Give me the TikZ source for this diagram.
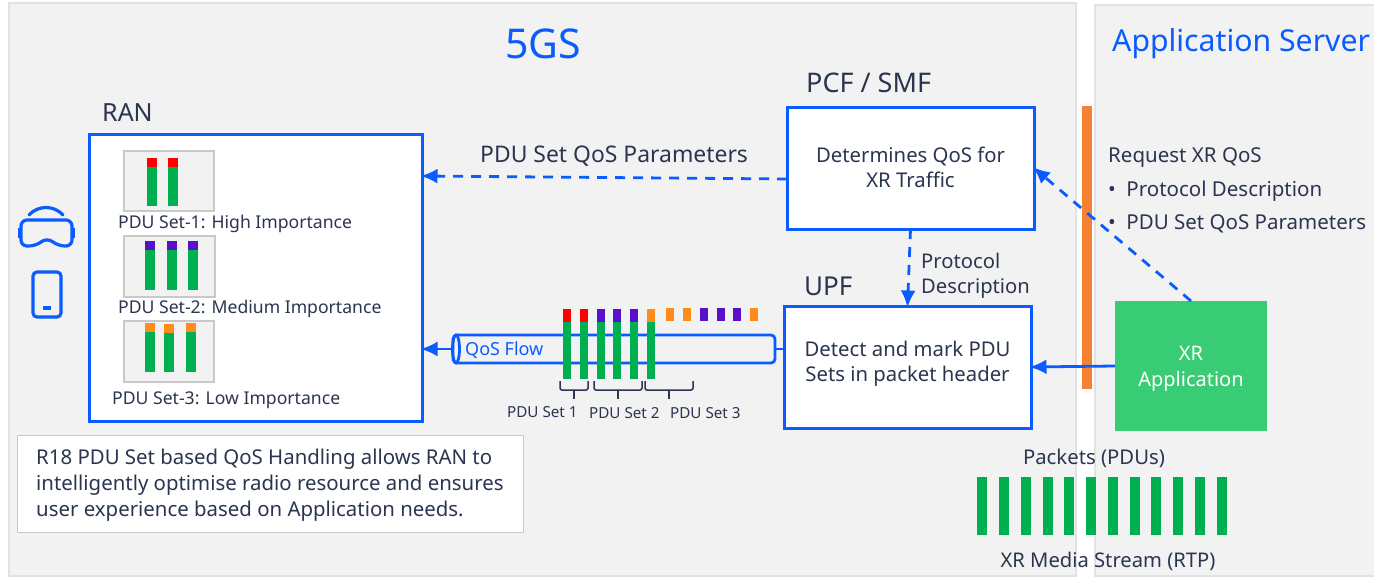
\documentclass[tikz,border=0pt]{standalone}
\usepackage{fontspec}
\setmainfont{Noto Sans}
\usetikzlibrary{arrows.meta}
\definecolor{nblue}{HTML}{0A5CFF}
\definecolor{ndark}{HTML}{2B3550}
\definecolor{npanel}{HTML}{F2F2F2}
\definecolor{nedge}{HTML}{E2E2E2}
\definecolor{nthumb}{HTML}{C9C9C9}
\definecolor{ngreen}{HTML}{00B050}
\definecolor{nred}{HTML}{FF0000}
\definecolor{npurple}{HTML}{5A10C8}
\definecolor{norange}{HTML}{FF8C1A}
\definecolor{nbar}{HTML}{F58233}
\definecolor{napp}{HTML}{38CC74}
\tikzset{
  panel/.style={fill=npanel,draw=nedge,line width=2pt},
  thumb/.style={fill=npanel,draw=nthumb,line width=2.8pt},
  bluebox/.style={draw=nblue,fill=white,line width=3pt,inner sep=0pt,outer sep=0pt},
  txt/.style={text=ndark,inner sep=0pt,font=\fontsize{20.3}{25}\selectfont},
  small/.style={text=ndark,inner sep=0pt,font=\fontsize{17.6}{21}\selectfont},
  tiny/.style={text=ndark,inner sep=0pt,font=\fontsize{15.2}{18}\selectfont},
  big/.style={text=nblue,inner sep=0pt},
  flowline/.style={draw=nblue,line width=2.8pt,shorten >=-1.5pt,-{Latex[length=17pt,width=15pt]}},
  flowdash/.style={flowline,dash pattern=on 10pt off 8pt},
  brace/.style={draw=ndark,line width=1.5pt,rounded corners=2pt},
  icon/.style={draw=nblue,line width=3.2pt}
}
\begin{document}
\begin{tikzpicture}[x=1pt,y=-1pt]
\useasboundingbox (0,0) rectangle (1374,578);

% Pannelli
\draw[panel] (9,3) rectangle (1076,576);
\draw[panel] (1095,5) rectangle (1380,576);
\node[big,font=\fontsize{41}{48}\selectfont] (title5gs) at (543,44) {5GS};
\node[big,font=\fontsize{30.2}{36}\selectfont,anchor=west] (titleas) at (1112,44) {Application Server};

% Visore e telefono
\draw[icon,rounded corners=6pt] (21,220) -- (72,220) -- (72,246) -- (59,246) -- (47,238) -- (35,246) -- (21,246) -- cycle;
\draw[icon,line cap=round] (29,215) .. controls (38,205) and (54,205) .. (63,215);
\fill[nblue] (18,228) rectangle (21,238);
\fill[nblue] (72,228) rectangle (75,238);
\draw[icon,rounded corners=4pt] (33,272) rectangle (61,317);
\draw[icon] (43,308) -- (51,308);

% RAN
\node[txt,anchor=west,font=\fontsize{25}{30}\selectfont] (ranlabel) at (102,113) {RAN};
\node[bluebox,minimum width=333pt,minimum height=287pt] (ran) at (255.5,277.5) {};

% PDU Set-1
\draw[thumb] (124,151) rectangle (214,211);
\fill[ngreen] (147,167) rectangle (157,206);
\fill[ngreen] (168,167) rectangle (178,206);
\fill[nred] (147,158) rectangle (157,167);
\fill[nred] (168,158) rectangle (178,167);
\node[small,anchor=west] (set1label) at (118,224) {PDU Set-1: High Importance};

% PDU Set-2
\draw[thumb] (124,236) rectangle (215,297);
\fill[ngreen] (145,250) rectangle (155,290);
\fill[ngreen] (167,250) rectangle (177,290);
\fill[ngreen] (188,250) rectangle (198,290);
\fill[npurple] (145,241) rectangle (155,250);
\fill[npurple] (167,241) rectangle (177,250);
\fill[npurple] (188,241) rectangle (198,250);
\node[small,anchor=west] (set2label) at (118,309) {PDU Set-2: Medium Importance};

% PDU Set-3
\draw[thumb] (124,321) rectangle (214,382);
\fill[ngreen] (145,332) rectangle (155,372);
\fill[ngreen] (164,333) rectangle (174,372);
\fill[ngreen] (186,332) rectangle (196,372);
\fill[norange] (145,323) rectangle (155,332);
\fill[norange] (164,324) rectangle (174,333);
\fill[norange] (186,323) rectangle (196,332);
\node[small,anchor=west] (set3label) at (112,400) {PDU Set-3: Low Importance};

% Nota
\node[draw=nthumb,fill=white,line width=0.8pt,minimum width=506pt,minimum height=97pt] (notebox) at (270,483.5) {};
\node[txt,anchor=west,align=left,font=\fontsize{20.4}{26}\selectfont] (notetext) at (36,485) {R18 PDU Set based QoS Handling allows RAN to\\intelligently optimise radio resource and ensures\\user experience based on Application needs.};

% PCF / SMF
\node[txt,anchor=west,font=\fontsize{27}{32}\selectfont] (pcflabel) at (806,83) {PCF / SMF};
\node[bluebox,minimum width=247pt,minimum height=122pt] (pcf) at (910.5,168) {};
\node[txt,align=center] (pcftext) at ([yshift=1pt]pcf.center) {Determines QoS for\\XR Traffic};

% UPF
\node[txt,anchor=west,font=\fontsize{26}{31}\selectfont] (upflabel) at (804,286) {UPF};
\node[bluebox,minimum width=247pt,minimum height=122pt] (upf) at (907.5,367) {};
\node[txt,align=center] (upftext) at ([yshift=3pt]upf.center) {Detect and mark PDU\\Sets in packet header};

% Tubo QoS Flow
\node[draw=nblue,fill=npanel,line width=2.8pt,rounded corners=4pt,minimum width=322pt,minimum height=28pt,inner sep=0pt,outer sep=0pt] (flow) at (614,349) {};
\draw[draw=nblue,line width=2.8pt] (456,349) ellipse (3.5 and 14);
\node[big,anchor=west,font=\fontsize{18}{22}\selectfont] (flowlabel) at (465,350) {QoS Flow};

% Pacchetti nel tubo
\fill[ngreen] (563,322) rectangle (571,379);
\fill[ngreen] (580,322) rectangle (588,379);
\fill[ngreen] (597,322) rectangle (605,379);
\fill[ngreen] (613,322) rectangle (621,379);
\fill[ngreen] (630,322) rectangle (638,379);
\fill[ngreen] (647,322) rectangle (655,379);
\fill[nred] (563,309) rectangle (571,322);
\fill[nred] (580,309) rectangle (588,322);
\fill[npurple] (597,309) rectangle (605,322);
\fill[npurple] (613,309) rectangle (621,322);
\fill[npurple] (630,309) rectangle (638,322);
\fill[norange] (647,309) rectangle (655,322);
\fill[norange] (666,308) rectangle (674,321);
\fill[norange] (683,308) rectangle (691,321);
\fill[npurple] (700,308) rectangle (708,321);
\fill[npurple] (717,308) rectangle (725,321);
\fill[npurple] (733,308) rectangle (741,321);
\fill[norange] (750,308) rectangle (758,321);

% Graffe
\draw[brace] (560,381) -- (560,390) -- (588,390) -- (588,381);
\draw[brace] (594,381) -- (594,390) -- (642,390) -- (642,381);
\draw[brace] (645,381) -- (645,390) -- (693,390) -- (693,381);
\draw[ndark,line width=1.8pt] (574,390) -- (574,399);
\draw[ndark,line width=1.8pt] (618,390) -- (618,399);
\draw[ndark,line width=1.8pt] (669,390) -- (669,399);
\node[tiny,anchor=west] (brace1label) at (507,412) {PDU Set 1};
\node[tiny,anchor=west] (brace2label) at (589,413) {PDU Set 2};
\node[tiny,anchor=west] (brace3label) at (670,413) {PDU Set 3};

% Barra arancione e XR Application
\fill[nbar] (1082,106) rectangle (1092,389);
\node[fill=napp,minimum width=152pt,minimum height=130pt,inner sep=0pt,outer sep=0pt] (xrapp) at (1191,366) {};
\node[txt,text=white,align=center,font=\fontsize{20}{26}\selectfont] (xrtext) at ([yshift=-3pt]xrapp.center) {XR\\Application};

% Testi
\node[txt,anchor=west,font=\fontsize{22.9}{27}\selectfont] (paramlabel) at (480,156) {PDU Set QoS Parameters};
\node[small,anchor=west,align=left,font=\fontsize{20.2}{25}\selectfont] (protolabel) at (921,276) {Protocol\\Description};
\node[small,anchor=west,font=\fontsize{20.5}{24}\selectfont] (reqlabel) at (1108,158) {Request XR QoS};
\node[small,anchor=west,font=\fontsize{20.5}{24}\selectfont] (bullet1) at (1108,191) {\textbullet\hspace{10.5pt}Protocol Description};
\node[small,anchor=west,font=\fontsize{20.5}{24}\selectfont] (bullet2) at (1108,224) {\textbullet\hspace{10.5pt}PDU Set QoS Parameters};

% Connessioni
\draw[flowdash] ([yshift=-11pt]pcf.west) -- ([yshift=101.5pt]ran.east);
\draw[flowdash] (pcf.south) -- (upf.north);
\draw[flowdash] (xrapp.north) -- (pcf.east);
\draw[flowline] (xrapp.west) -- (upf.east);
\draw[flowline] (flow.west) -- (flow.west -| ran.east);
\draw[draw=nblue,line width=2.8pt] (flow.east) -- (flow.east -| upf.west);

% Flusso RTP
\node[txt,anchor=center,font=\fontsize{20.3}{24}\selectfont] (packetslabel) at (1094,458) {Packets (PDUs)};
\fill[ngreen] (977,477) rectangle (987,535);
\fill[ngreen] (999,477) rectangle (1009,535);
\fill[ngreen] (1021,477) rectangle (1031,535);
\fill[ngreen] (1043,477) rectangle (1053,535);
\fill[ngreen] (1064,477) rectangle (1074,535);
\fill[ngreen] (1086,477) rectangle (1096,535);
\fill[ngreen] (1108,477) rectangle (1118,535);
\fill[ngreen] (1130,477) rectangle (1140,535);
\fill[ngreen] (1151,477) rectangle (1161,535);
\fill[ngreen] (1173,477) rectangle (1183,535);
\fill[ngreen] (1195,477) rectangle (1205,535);
\fill[ngreen] (1217,477) rectangle (1227,535);
\node[txt,anchor=center,font=\fontsize{20.2}{24}\selectfont] (streamlabel) at (1108,561) {XR Media Stream (RTP)};
\end{tikzpicture}
\end{document}
